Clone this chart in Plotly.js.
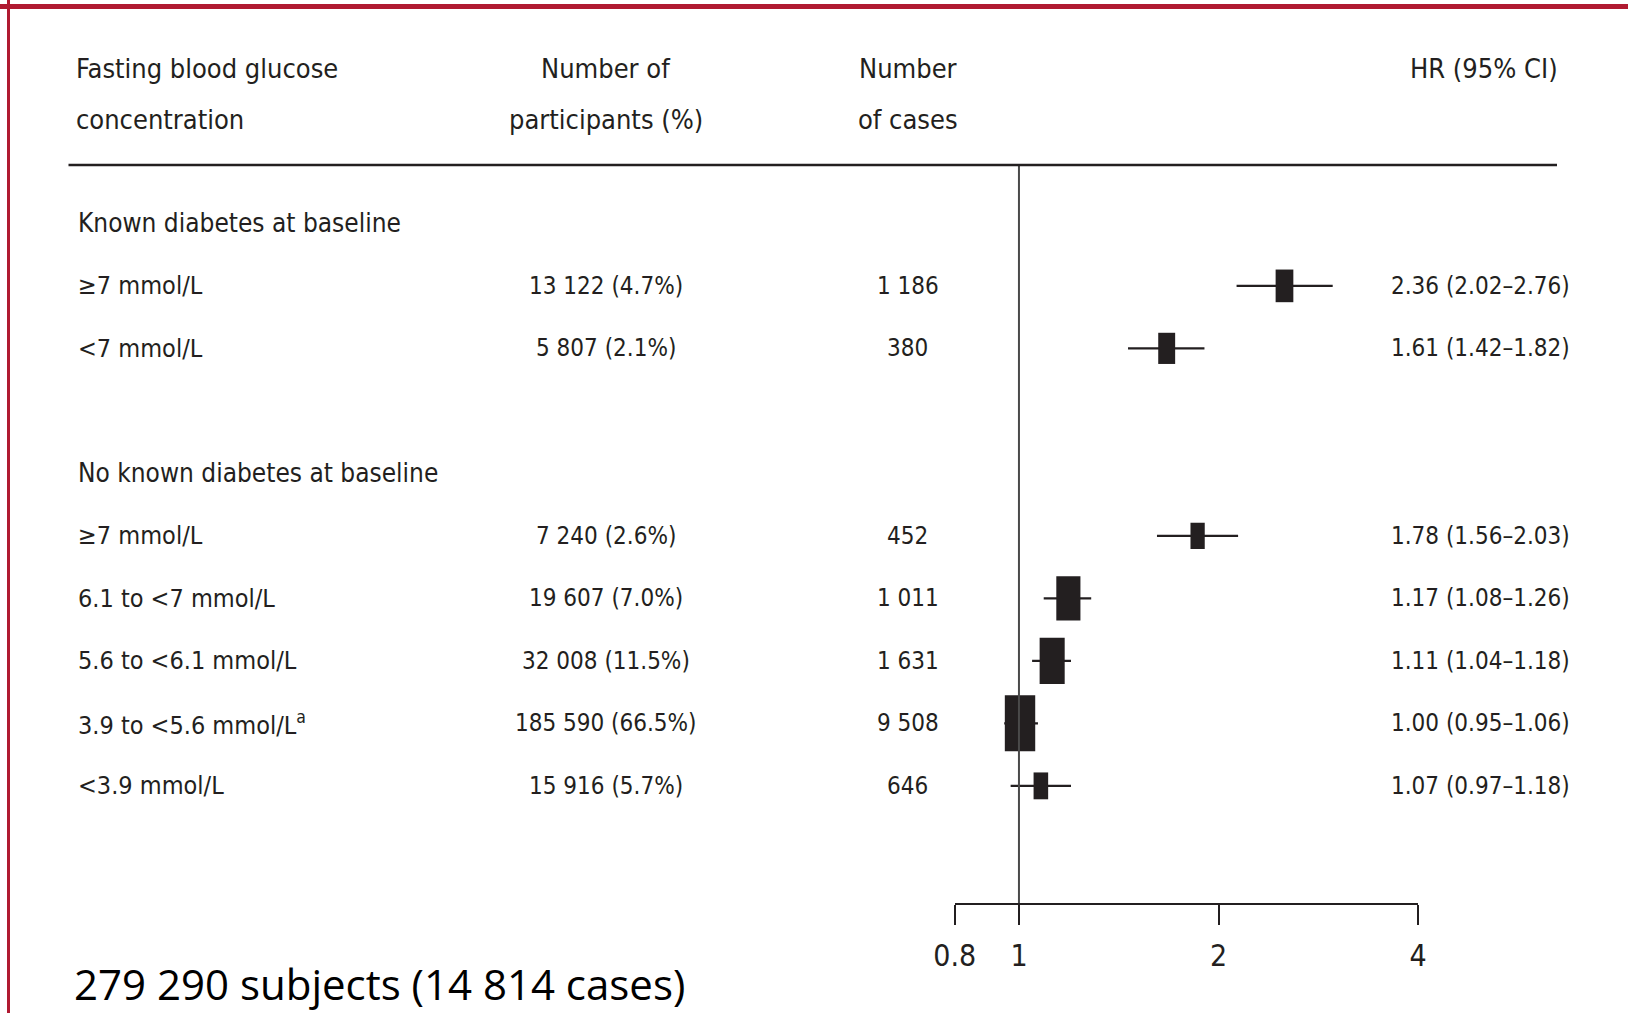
<!DOCTYPE html>
<html><head><meta charset="utf-8">
<script src="https://cdn.plot.ly/plotly-3.0.1.min.js"></script>
<style>html,body{margin:0;padding:0;background:#fff}</style>
</head><body><div id="chart" style="width:1628px;height:1013px"></div>
<script>
// ---- data ----
const groupTitles = ["Known diabetes at baseline", "No known diabetes at baseline"];
const rowGroup = [0, 0, 1, 1, 1, 1, 1];
const rowLabels = ["≥7 mmol/L", "<7 mmol/L", "≥7 mmol/L", "6.1 to <7 mmol/L", "5.6 to <6.1 mmol/L", "3.9 to <5.6 mmol/L<sup>a</sup>", "<3.9 mmol/L"];
const participants = [13122, 5807, 7240, 19607, 32008, 185590, 15916];
const participantPct = [4.7, 2.1, 2.6, 7.0, 11.5, 66.5, 5.7];
const cases = [1186, 380, 452, 1011, 1631, 9508, 646];
const hr = [2.36, 1.61, 1.78, 1.17, 1.11, 1.00, 1.07];
const ciLow = [2.02, 1.42, 1.56, 1.08, 1.04, 0.95, 0.97];
const ciHigh = [2.76, 1.82, 2.03, 1.26, 1.18, 1.06, 1.18];
const relWeight = [34, 31, 22, 63, 68, 100, 23];   // relative box weight (%)
const xTicks = [0.8, 1, 2, 4];
const refHR = 1;
const totalSubjects = 279290;
const totalCases = 14814;
const headers = {
  label: ["Fasting blood glucose", "concentration"],
  participants: ["Number of", "participants (%)"],
  cases: ["Number", "of cases"],
  hr: "HR (95% CI)"
};

// ---- layout helpers ----
const W = 1628, H = 1013;
const px = p => p / W;
const py = p => 1 - p / H;
const Y_TOP = -3.574, Y_PER_PX = 1 / 62.5;          // y-axis: row slots
const yFromPx = p => Y_TOP + p * Y_PER_PX;
const INK = "#231f20";
const tableFont = "'DejaVu Sans Condensed', 'Liberation Sans Narrow', sans-serif";
const fmtN = n => n.toLocaleString("en-US").replace(/,/g, " ");

// vertical slots: group title, its rows, blank spacer between groups
let slot = 0; const rowY = []; const titleY = [];
groupTitles.forEach((t, g) => {
  if (g > 0) slot += 1;
  titleY.push(slot); slot++;
  rowGroup.forEach((rg, i) => { if (rg === g) { rowY[i] = slot; slot++; } });
});

const boxH = relWeight.map(w => 40 * Math.sqrt(w / 100));
const boxW = boxH.map(h => h * 0.76);

const traces = [
  // reference line at HR = 1 (drawn on the tick axis)
  { type: "scatter", mode: "lines", x: [refHR, refHR], y: [yFromPx(166), yFromPx(904)],
    xaxis: "x2", yaxis: "y", line: { color: "#4a4a4a", width: 2 }, hoverinfo: "skip", showlegend: false },
  {
    type: "scatter", mode: "markers", x: hr, y: rowY, xaxis: "x", yaxis: "y",
    marker: { symbol: "line-ns", size: boxH, opacity: 1, color: INK, line: { color: INK, width: boxW } },
    error_x: {
      type: "data", symmetric: false,
      array: hr.map((v, i) => ciHigh[i] - v),
      arrayminus: hr.map((v, i) => v - ciLow[i]),
      width: 0, thickness: 2.2, color: INK
    },
    hoverinfo: "skip", showlegend: false
  }
];

const ann = [];
const T = (text, x, y, xanchor, size, yref) => ann.push({
  text, x, y, xref: "paper", yref: yref || "paper", xanchor, yanchor: "middle", showarrow: false,
  font: { family: tableFont, size: size, color: INK }
});

// headers
T(headers.label[0], px(74), py(69), "left", 27);
T(headers.label[1], px(74), py(119), "left", 27);
T(headers.participants[0], px(605.5), py(69), "center", 27);
T(headers.participants[1], px(605.5), py(119), "center", 27);
T(headers.cases[0], px(907.5), py(69), "center", 27);
T(headers.cases[1], px(907.5), py(119), "center", 27);
T(headers.hr, px(1560), py(69), "right", 27);

// group titles
groupTitles.forEach((t, g) => T(t, px(76), titleY[g], "left", 26, "y"));
// rows
rowLabels.forEach((t, i) => {
  T(t, px(76), rowY[i], "left", 25, "y");
  T(fmtN(participants[i]) + " (" + participantPct[i].toFixed(1) + "%)", px(605.5), rowY[i], "center", 24, "y");
  T(fmtN(cases[i]), px(907.5), rowY[i], "center", 24, "y");
  T(hr[i].toFixed(2) + " (" + ciLow[i].toFixed(2) + "–" + ciHigh[i].toFixed(2) + ")", px(1572), rowY[i], "right", 24, "y");
});
// footer
ann.push({ text: fmtN(totalSubjects) + " subjects (" + fmtN(totalCases) + " cases)", x: px(72), y: py(983),
  xref: "paper", yref: "paper", xanchor: "left", yanchor: "middle", showarrow: false,
  font: { family: "'Open Sans', sans-serif", size: 42, color: "#000" } });

const shapes = [
  // red frame (top and left)
  { type: "line", xref: "paper", yref: "paper", x0: 0, x1: 1, y0: py(6.5), y1: py(6.5), line: { color: "#b01a31", width: 5 } },
  { type: "line", xref: "paper", yref: "paper", x0: px(8.5), x1: px(8.5), y0: 1, y1: 0, line: { color: "#b01a31", width: 3 } },
  // header rule
  { type: "line", xref: "paper", yref: "paper", x0: px(68.5), x1: px(1557), y0: py(165), y1: py(165), line: { color: INK, width: 2.4 } }
];

const layout = {
  width: W, height: H, margin: { l: 0, r: 0, t: 0, b: 0 },
  paper_bgcolor: "#fff", plot_bgcolor: "rgba(0,0,0,0)",
  showlegend: false,
  xaxis: { type: "log", range: [-1.4383, 0.8573], domain: [0, 1], visible: false, fixedrange: true },
  yaxis: { range: [yFromPx(H), Y_TOP], domain: [0, 1], visible: false, fixedrange: true },
  xaxis2: {
    type: "log", anchor: "free", position: py(904), domain: [px(954.7), px(1418.2)],
    range: [Math.log10(0.8), Math.log10(4)],
    tickvals: xTicks, ticktext: xTicks.map(String),
    ticks: "outside", ticklen: 20, tickwidth: 2, tickcolor: INK,
    showline: true, linewidth: 2, linecolor: INK, showgrid: false, zeroline: false,
    ticklabelstandoff: 5,
    tickfont: { family: tableFont, size: 30, color: INK }, fixedrange: true
  },
  annotations: ann, shapes: shapes
};

Plotly.newPlot("chart", traces, layout, { displayModeBar: false, staticPlot: true });
</script></body></html>
